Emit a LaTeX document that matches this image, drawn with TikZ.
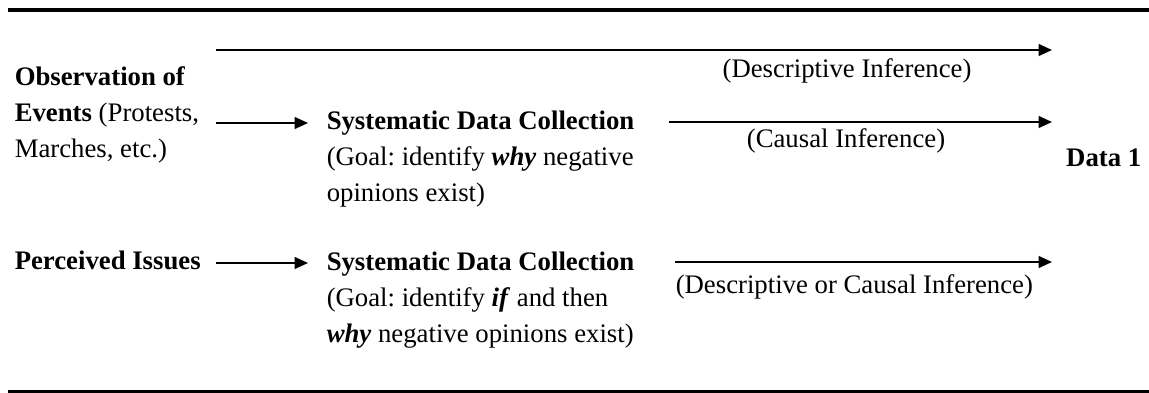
\documentclass[tikz,border=0pt]{standalone}
\usepackage{fontspec}
\setmainfont{Liberation Serif}
\usetikzlibrary{arrows.meta}

\begin{document}
\frenchspacing
\begin{tikzpicture}[x=0.4pt,y=-0.4pt,
    every node/.style={inner sep=0pt,font=\fontsize{10.7}{14.4}\selectfont},
    >={Triangle[length=5.4pt,width=4.8pt]}, line width=0.6pt]
            \useasboundingbox (0,0) rectangle (1149,393);

            \draw[line width=1.3pt] (8,10) -- (1149,10);
            \draw[line width=1.3pt] (8,392) -- (1149,392);

            \node[align=left,anchor=west] (Observation) at (14,115) {\textbf{Observation of}\\
                \textbf{Events} (Protests,\\
                Marches, etc.)
            };
            \node[align=left,anchor=west] (CollectionA) at (326,159) {\textbf{Systematic Data Collection}\\
                (Goal: identify \textbf{\textit{why}}\ negative\\
                opinions exist)
            };
            \node[anchor=base west] (Issues) at (14,269) {\textbf{Perceived Issues}};
            \node[align=left,anchor=west] (CollectionB) at (326,300) {\textbf{Systematic Data Collection}\\
                (Goal: identify \textbf{\textit{if}}\ and then\\
                \textbf{\textit{why}}\ negative opinions exist)
            };
            \node[anchor=base east] (Data) at (1142,167) {\textbf{Data 1}};

            \node[anchor=base] (Descriptive) at (847,77) {(Descriptive Inference)};
            \node[anchor=base] (Causal) at (846,147) {(Causal Inference)};
            \node[anchor=base west] (Either) at (675,293) {(Descriptive or Causal Inference)};

            \coordinate (ObservationOut) at (216,50);
            \coordinate (DescriptiveEnd) at (1052,50);
            \coordinate (EventsOut) at (216,123);
            \coordinate (CollectionAIn) at (308,123);
            \coordinate (CollectionAOut) at (669,122);
            \coordinate (CausalEnd) at (1052,122);
            \coordinate (IssuesOut) at (216,263);
            \coordinate (CollectionBIn) at (308,263);
            \coordinate (CollectionBOut) at (675,262);
            \coordinate (EitherEnd) at (1052,262);

            \draw[->] (ObservationOut) to (DescriptiveEnd);
            \draw[->] (EventsOut) to (CollectionAIn);
            \draw[->] (CollectionAOut) to (CausalEnd);
            \draw[->] (IssuesOut) to (CollectionBIn);
            \draw[->] (CollectionBOut) to (EitherEnd);
        \end{tikzpicture}
\end{document}
